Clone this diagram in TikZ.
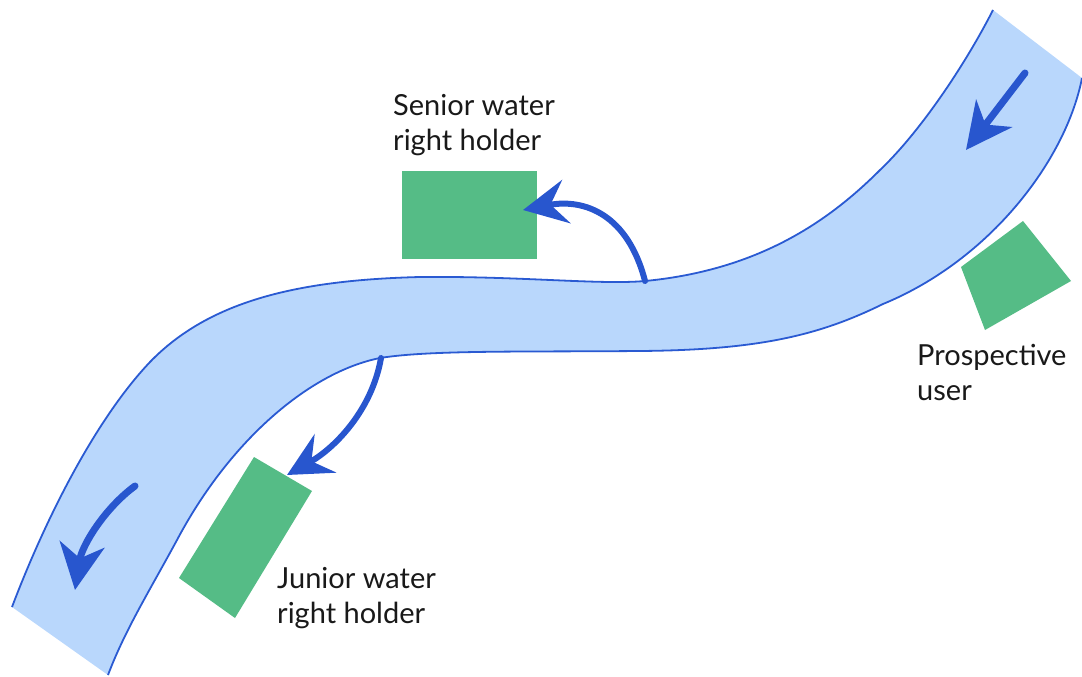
\documentclass[tikz,border=0pt]{standalone}
\usepackage{fontspec}
\setmainfont{Lato}
\usetikzlibrary{arrows.meta}
\definecolor{rvFill}{RGB}{185,215,252}
\definecolor{rvEdge}{RGB}{42,90,210}
\definecolor{rvArr}{RGB}{40,86,206}
\definecolor{lotG}{RGB}{85,188,134}
\definecolor{txtK}{RGB}{25,25,25}

\begin{document}
\begin{tikzpicture}[x=1pt,y=-1pt,font=\fontsize{29}{35}\selectfont]
  \tikzset{bank/.style={draw=rvEdge,line width=1.8pt},
    flow/.style={draw=rvArr,line width=7pt,line cap=round,-{Stealth[length=46pt,width=45pt,inset=14pt]}},
    take/.style={draw=rvArr,line width=6pt,line cap=round,-{Stealth[length=44pt,width=44pt,inset=16pt]}},
    lot/.style={fill=lotG},
    lbl/.style={anchor=base west,align=left,inner sep=0pt,text=txtK}}
  \useasboundingbox (0,0) rectangle (1082,677);
  \fill[rvFill] (12,607) .. controls (45,520) and (95,420) .. (150,362)
    .. controls (210,300) and (300,280) .. (420,277)
    .. controls (520,276) and (600,285) .. (645,281)
    .. controls (760,270) and (830,220) .. (880,170)
    .. controls (920,132) and (965,65) .. (993,10)
    -- (1082,78) .. controls (1066,160) and (990,260) .. (883,304)
    .. controls (820,335) and (760,350) .. (640,351)
    .. controls (520,352) and (430,350) .. (380,358)
    .. controls (310,372) and (230,440) .. (177,540)
    .. controls (150,590) and (125,630) .. (108,675) -- cycle;
  \draw[bank] (12,607) .. controls (45,520) and (95,420) .. (150,362)
    .. controls (210,300) and (300,280) .. (420,277)
    .. controls (520,276) and (600,285) .. (645,281)
    .. controls (760,270) and (830,220) .. (880,170)
    .. controls (920,132) and (965,65) .. (993,10);
  \draw[bank] (1082,78) .. controls (1066,160) and (990,260) .. (883,304)
    .. controls (820,335) and (760,350) .. (640,351)
    .. controls (520,352) and (430,350) .. (380,358)
    .. controls (310,372) and (230,440) .. (177,540)
    .. controls (150,590) and (125,630) .. (108,675);
  \fill[lot] (402,171) rectangle (537,259);
  \fill[lot] (254,457) -- (312,491) -- (235,618) -- (179,578) -- cycle;
  \fill[lot] (961,267) -- (1023,221) -- (1071,281) -- (985,330) -- cycle;
  \coordinate (inTop) at (1025,73);
  \coordinate (outTop) at (966,150);
  \coordinate (inLow) at (135,486);
  \coordinate (outLow) at (75,590);
  \coordinate (sDiv) at (645,281);
  \coordinate (sLot) at (523,210);
  \coordinate (jDiv) at (381,358);
  \coordinate (jLot) at (287,475);
  \draw[flow] (inTop) -- (outTop);
  \draw[flow] (inLow) .. controls (105,508) and (82,545) .. (outLow);
  \draw[take] (sDiv) .. controls (628,215) and (585,198) .. (sLot);
  \draw[take] (jDiv) .. controls (372,410) and (335,448) .. (jLot);
  \node[lbl] (senior) at (393,150) {Senior water\\right holder};
  \node[lbl] (junior) at (277,623) {Junior water\\right holder};
  \node[lbl] (prosp) at (917,400) {Prospective\\user};
\end{tikzpicture}
\end{document}
